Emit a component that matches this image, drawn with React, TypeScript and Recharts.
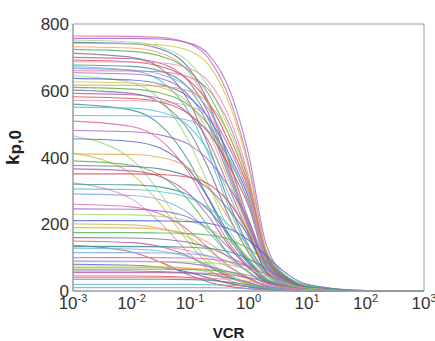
import { LineChart, Line, XAxis, YAxis, Label } from "recharts";

// VCR sample points (log axis)
const vcr = [0.001, 0.01, 0.03, 0.1, 0.2, 0.5, 1, 2, 5, 10, 100, 1000];

// kp,0 curves, one row per curve, values at the vcr points
const topCurves = [
  [764, 763, 760, 740, 701, 565, 382, 122, 31, 11, 0, 0],
  [757, 757, 755, 742, 712, 592, 410, 140, 35, 12, 0, 0],
  [752, 746, 732, 683, 617, 472, 330, 120, 38, 14, 0, 0],
  [745, 741, 726, 663, 571, 373, 215, 89, 26, 10, 0, 0],
  [742, 741, 738, 719, 681, 548, 371, 119, 30, 11, 0, 0],
  [732, 728, 714, 651, 561, 366, 212, 88, 26, 10, 0, 0],
  [724, 718, 705, 657, 594, 454, 318, 116, 36, 13, 0, 0],
  [712, 700, 670, 562, 441, 250, 136, 57, 18, 7, 0, 0],
  [700, 696, 683, 623, 537, 350, 202, 84, 25, 9, 0, 0],
  [692, 686, 674, 628, 568, 434, 304, 111, 35, 12, 0, 0],
  [687, 686, 684, 666, 631, 508, 344, 110, 27, 10, 0, 0],
  [677, 673, 660, 603, 519, 339, 196, 81, 24, 9, 0, 0],
  [672, 661, 632, 530, 416, 236, 128, 54, 17, 7, 0, 0],
  [667, 662, 650, 606, 548, 418, 293, 107, 33, 12, 0, 0],
  [660, 659, 657, 640, 606, 488, 330, 106, 26, 10, 0, 0],
  [654, 650, 638, 582, 502, 327, 189, 78, 23, 9, 0, 0],
  [645, 624, 576, 441, 324, 173, 94, 39, 14, 6, 0, 0],
  [637, 632, 620, 578, 523, 399, 280, 102, 32, 11, 0, 0],
  [627, 623, 611, 558, 481, 314, 181, 75, 22, 8, 0, 0],
  [617, 616, 614, 598, 566, 456, 309, 99, 25, 9, 0, 0],
  [610, 605, 594, 554, 501, 382, 268, 98, 31, 11, 0, 0],
  [602, 592, 566, 475, 373, 211, 115, 48, 15, 6, 0, 0],
  [592, 588, 577, 527, 454, 296, 171, 71, 21, 8, 0, 0],
  [582, 577, 567, 528, 478, 365, 255, 93, 29, 10, 0, 0],
  [571, 570, 568, 553, 524, 422, 286, 91, 23, 9, 0, 0],
  [560, 542, 500, 383, 281, 150, 82, 34, 12, 6, 0, 0],
  [551, 548, 537, 490, 423, 276, 159, 66, 19, 7, 0, 0],
];

const midCurves = [
  [526, 525, 523, 510, 483, 389, 263, 84, 21, 8, 0, 0],
  [509, 493, 455, 349, 256, 136, 75, 31, 11, 5, 0, 0],
  [481, 477, 468, 437, 395, 302, 211, 77, 24, 9, 0, 0],
  [465, 395, 296, 158, 95, 43, 23, 11, 5, 2, 0, 0],
  [456, 448, 429, 360, 282, 160, 87, 36, 11, 5, 0, 0],
  [413, 351, 263, 140, 84, 38, 20, 10, 4, 2, 0, 0],
  [411, 409, 401, 366, 315, 206, 119, 49, 14, 5, 0, 0],
  [390, 377, 348, 267, 196, 104, 57, 23, 9, 4, 0, 0],
  [376, 373, 366, 341, 309, 236, 165, 60, 19, 7, 0, 0],
  [366, 360, 344, 289, 227, 128, 70, 29, 9, 4, 0, 0],
  [351, 351, 349, 340, 322, 259, 176, 56, 14, 5, 0, 0],
  [324, 276, 207, 110, 66, 30, 16, 8, 3, 2, 0, 0],
  [320, 318, 312, 285, 245, 160, 92, 38, 11, 4, 0, 0],
  [306, 304, 298, 278, 251, 192, 134, 49, 15, 6, 0, 0],
  [291, 286, 274, 230, 180, 102, 56, 23, 7, 3, 0, 0],
  [260, 252, 232, 178, 131, 70, 38, 16, 6, 3, 0, 0],
  [246, 245, 240, 219, 189, 123, 71, 30, 9, 3, 0, 0],
  [230, 228, 224, 209, 189, 144, 101, 37, 12, 4, 0, 0],
  [211, 211, 210, 208, 203, 184, 153, 106, 46, 20, 1, 0],
  [201, 198, 189, 159, 124, 71, 38, 16, 5, 2, 0, 0],
];

const lowCurves = [
  [190, 189, 185, 169, 146, 95, 55, 23, 7, 2, 0, 0],
  [175, 175, 174, 172, 168, 153, 127, 88, 38, 17, 1, 0],
  [160, 159, 156, 145, 131, 100, 70, 26, 8, 3, 0, 0],
  [150, 145, 134, 102, 75, 40, 22, 9, 3, 2, 0, 0],
  [137, 117, 88, 47, 28, 13, 7, 3, 1, 1, 0, 0],
  [135, 134, 132, 120, 104, 68, 39, 16, 5, 2, 0, 0],
  [133, 133, 133, 131, 128, 116, 96, 67, 29, 13, 1, 0],
  [128, 126, 120, 101, 79, 45, 24, 10, 3, 1, 0, 0],
  [115, 115, 114, 111, 106, 85, 58, 18, 5, 2, 0, 0],
  [100, 100, 100, 99, 96, 87, 73, 50, 22, 10, 0, 0],
  [90, 89, 88, 82, 74, 56, 40, 14, 5, 2, 0, 0],
  [88, 88, 88, 87, 85, 77, 64, 44, 19, 8, 0, 0],
  [80, 77, 71, 55, 40, 21, 12, 5, 2, 1, 0, 0],
  [75, 75, 73, 67, 58, 38, 22, 9, 3, 1, 0, 0],
  [70, 70, 70, 68, 64, 52, 35, 11, 3, 1, 0, 0],
  [65, 65, 65, 64, 63, 57, 47, 33, 14, 6, 0, 0],
  [60, 60, 58, 54, 49, 38, 26, 10, 3, 1, 0, 0],
  [55, 55, 55, 54, 53, 48, 40, 28, 12, 5, 0, 0],
  [45, 45, 44, 40, 35, 23, 13, 5, 2, 1, 0, 0],
  [40, 40, 40, 39, 38, 35, 29, 20, 9, 4, 0, 0],
  [35, 35, 35, 34, 32, 26, 18, 6, 1, 1, 0, 0],
  [20, 20, 20, 20, 19, 17, 15, 10, 4, 2, 0, 0],
  [10, 10, 10, 10, 10, 9, 7, 5, 2, 1, 0, 0],
];

const yTicks = [0, 200, 400, 600, 800];
const decades = [0.001, 0.01, 0.1, 1, 10, 100, 1000];
const minorSteps = [2, 3, 4, 5, 6, 7, 8, 9];

const palette = [
  "#e0609a", "#4a5fd0", "#4fb04f", "#d84848", "#52c0d0", "#9b63cf", "#c9c447",
  "#6f6f8f", "#e58fb3", "#7fa0e8", "#98d87a", "#e3a35a", "#b05aa0", "#3d8f8f",
];

const allCurves = [...topCurves, ...midCurves, ...lowCurves];
const data = vcr.map((x, i) => {
  const row: Record<string, number> = { x };
  allCurves.forEach((c, k) => (row["c" + k] = c[i]));
  return row;
});

const logTicks = [
  ...decades,
  ...decades.slice(0, -1).flatMap((d) => minorSteps.map((m) => +(d * m).toPrecision(3))),
];

const font = "'Liberation Sans', Arial, sans-serif";
const frame = "#9a9a9a";

function PowerTick({ x, y, payload }: any) {
  const exp = Math.round(Math.log10(payload.value));
  return (
    <text x={x} y={y + 16} textAnchor="middle" fontFamily={font} fill="#333">
      <tspan fontSize={17}>10</tspan>
      <tspan fontSize={11} dy={-7}>{exp}</tspan>
    </text>
  );
}

function YTitle({ viewBox }: any) {
  const cx = viewBox.x + 2;
  const cy = viewBox.y + viewBox.height / 2 - 10;
  return (
    <text
      transform={`translate(${cx},${cy}) rotate(-90)`}
      textAnchor="middle"
      fontFamily={font}
      fontWeight="bold"
      fill="#222"
      y={4}
    >
      <tspan fontSize={19}>k</tspan>
      <tspan fontSize={17} dy={2}>p,0</tspan>
    </text>
  );
}

export default function App() {
  return (
    <div style={{ position: "absolute", left: 0, top: 0, background: "#fff" }}>
      <LineChart width={435} height={341} data={data} margin={{ top: 24, right: 11, left: 13, bottom: 10 }}>
        <XAxis
          dataKey="x"
          type="number"
          scale="log"
          domain={[0.001, 1000]}
          allowDataOverflow
          ticks={decades}
          interval={0}
          tick={<PowerTick />}
          tickLine={false}
          tickSize={0}
          height={40}
          stroke={frame}
        >
          <Label
            value="VCR"
            position="insideBottom"
            offset={-7}
            dx={-20}
            style={{ fontFamily: font, fontWeight: "bold", fontSize: 15, fill: "#222" }}
          />
        </XAxis>
        <XAxis
          xAxisId="bm"
          type="number"
          scale="log"
          domain={[0.001, 1000]}
          allowDataOverflow
          ticks={logTicks}
          interval={0}
          mirror
          tick={{ fill: "none" }}
          tickSize={3}
          stroke={frame}
        />
        <XAxis
          xAxisId="top"
          orientation="top"
          type="number"
          scale="log"
          domain={[0.001, 1000]}
          allowDataOverflow
          ticks={logTicks}
          interval={0}
          mirror
          tick={{ fill: "none" }}
          tickSize={3}
          stroke={frame}
        />
        <YAxis
          domain={[0, 800]}
          ticks={yTicks}
          interval={0}
          width={60}
          tickLine={false}
          tickSize={0}
          tickMargin={4}
          stroke={frame}
          tick={{ fontSize: 17, fill: "#333", fontFamily: font }}
        >
          <Label content={<YTitle />} />
        </YAxis>
        <YAxis
          yAxisId="lm"
          domain={[0, 800]}
          ticks={yTicks}
          interval={0}
          mirror
          tick={{ fill: "none" }}
          tickSize={3}
          stroke={frame}
        />
        <YAxis
          yAxisId="rm"
          orientation="right"
          domain={[0, 800]}
          ticks={yTicks}
          interval={0}
          mirror
          tick={{ fill: "none" }}
          tickSize={3}
          stroke={frame}
        />
        {allCurves.map((_, k) => (
          <Line
            key={k}
            dataKey={"c" + k}
            type="monotone"
            dot={false}
            stroke={palette[(k * 5) % palette.length]}
            strokeWidth={1.1}
            strokeOpacity={0.8}
            isAnimationActive={false}
          />
        ))}
      </LineChart>
    </div>
  );
}
